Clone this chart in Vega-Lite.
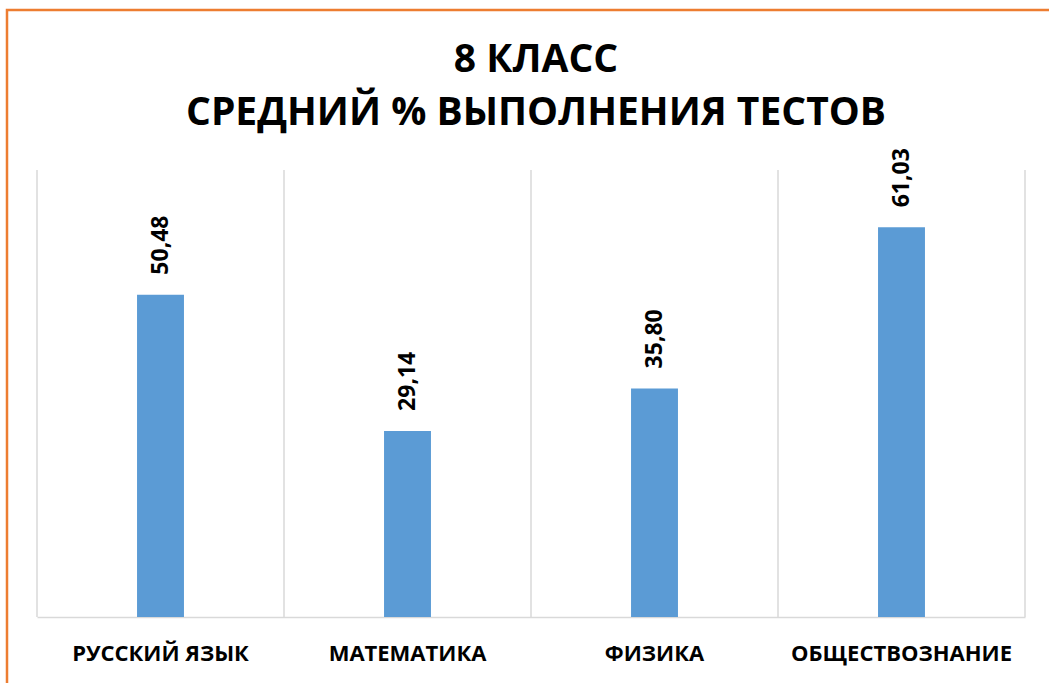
{
  "$schema": "https://vega.github.io/schema/vega-lite/v6.json",
  "autosize": {"type": "none"},
  "width": 1100,
  "height": 700,
  "padding": {"left": 7, "top": 10, "right": -58, "bottom": -27},
  "background": "white",
  "config": {
    "view": {"stroke": "#ED7D31", "strokeWidth": 2.5},
    "font": "Open Sans"
  },
  "title": {
    "text": ["8 КЛАСС", "СРЕДНИЙ % ВЫПОЛНЕНИЯ ТЕСТОВ"],
    "orient": "top",
    "anchor": "start",
    "offset": -123,
    "dx": 529,
    "align": "center",
    "font": "Open Sans",
    "fontSize": 39,
    "fontWeight": "bold",
    "color": "#000000",
    "lineHeight": 53
  },
  "data": {
    "values": [
      {"subject": "РУССКИЙ ЯЗЫК", "value": 50.48},
      {"subject": "МАТЕМАТИКА", "value": 29.14},
      {"subject": "ФИЗИКА", "value": 35.80},
      {"subject": "ОБЩЕСТВОЗНАНИЕ", "value": 61.03}
    ]
  },
  "layer": [
    {
      "mark": {"type": "bar", "color": "#5B9BD5", "width": {"band": 0.19}},
      "encoding": {
        "x": {
          "field": "subject",
          "type": "nominal",
          "sort": null,
          "scale": {"range": [30, 1018], "paddingInner": 0, "paddingOuter": 0},
          "axis": {
            "title": null,
            "offset": -93,
            "domain": true,
            "domainColor": "#D9D9D9",
            "domainWidth": 1.5,
            "ticks": false,
            "grid": false,
            "labelAngle": 0,
            "labelFont": "Open Sans",
            "labelFontSize": 22,
            "labelFontWeight": "bold",
            "labelColor": "#000000",
            "labelPadding": 26,
            "labelLimit": 400,
            "labelOverlap": false
          }
        },
        "y": {
          "field": "value",
          "type": "quantitative",
          "scale": {"domain": [0, 70], "range": [607, 160], "nice": false},
          "axis": null
        }
      }
    },
    {
      "mark": {"type": "rule", "color": "#D9D9D9", "strokeWidth": 1.5, "xOffset": -123.5},
      "encoding": {
        "x": {"field": "subject", "type": "nominal", "sort": null},
        "y": {"datum": 0, "type": "quantitative"},
        "y2": {"datum": 70}
      }
    },
    {
      "transform": [{"filter": "datum.subject == 'ОБЩЕСТВОЗНАНИЕ'"}],
      "mark": {"type": "rule", "color": "#D9D9D9", "strokeWidth": 1.5, "xOffset": 123.5},
      "encoding": {
        "x": {"field": "subject", "type": "nominal", "sort": null},
        "y": {"datum": 0, "type": "quantitative"},
        "y2": {"datum": 70}
      }
    },
    {
      "transform": [{"calculate": "replace(format(datum.value, '.2f'), '.', ',')", "as": "label"}],
      "mark": {"type": "text", "angle": 270, "align": "left", "baseline": "middle", "dx": 20, "font": "Open Sans", "fontSize": 23, "fontWeight": "bold", "color": "#000000"},
      "encoding": {
        "x": {"field": "subject", "type": "nominal", "sort": null},
        "y": {"field": "value", "type": "quantitative"},
        "text": {"field": "label", "type": "nominal"}
      }
    }
  ]
}
